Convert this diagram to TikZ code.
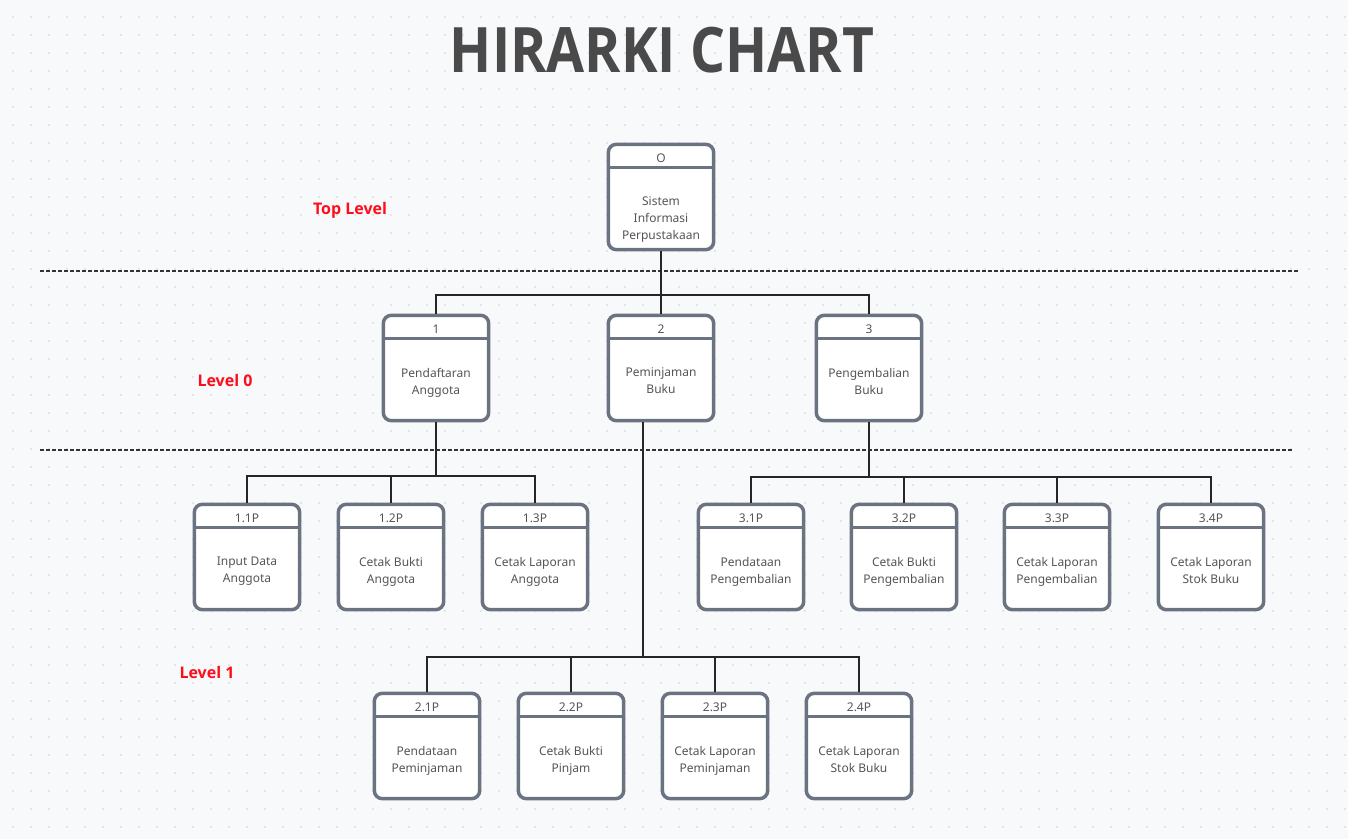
\documentclass[tikz,border=0pt]{standalone}
\usepackage{fontspec}
\setmainfont{Noto Sans}
\newfontfamily\heavyfont{Open Sans}
\usepackage{graphicx}

\definecolor{paper}{HTML}{F8F9FB}
\definecolor{griddot}{HTML}{DCDEE3}
\definecolor{boxline}{HTML}{6B7280}
\definecolor{boxtext}{HTML}{555555}
\definecolor{titlegray}{HTML}{4A4A4A}
\definecolor{levelred}{HTML}{FF0D1A}

\begin{document}
\begin{tikzpicture}[x=0.75pt, y=-0.75pt,
    every proc/.style={draw=boxline, fill=white, line width=2.6pt, rounded corners=6pt,
        minimum width=79pt, minimum height=79pt, inner sep=0pt},
    head line/.style={draw=boxline, line width=2.4pt},
    head/.style={font=\fontsize{9}{11}\selectfont, text=boxtext},
    body/.style={font=\fontsize{9}{12.75}\selectfont, text=boxtext, align=center, anchor=north},
    wire/.style={draw=black!85, line width=1.3pt},
    divider/.style={draw=black!80, line width=1.1pt, dash pattern=on 3pt off 1.5pt},
    level/.style={font=\heavyfont\bfseries\fontsize{12}{14}\selectfont, text=levelred}]

% background with dot grid
\fill[paper] (0,0) rectangle (1348,839);
\foreach \i in {0,...,74}
    \foreach \j in {0,...,45}
        \fill[griddot] (13+18*\i, 17+18*\j) circle (0.8pt);

\node [font=\heavyfont\bfseries\fontsize{47}{52}\selectfont, text=titlegray] (title) at (662,50)
    {\scalebox{0.88}[1]{HIRARKI CHART}};

\node [level] (level-top) at (350,210) {Top Level};
\node [level] (level-0) at (225,380) {Level 0};
\node [level] (level-1) at (207,672) {Level 1};

\draw [divider] (40,271) -- (1300,271);
\draw [divider] (40,450) -- (1292,450);

\foreach \n/\x/\y/\h/\t in {
        0/661/197/O/{Sistem\\Informasi\\Perpustakaan},
        1/436/368/1/{Pendaftaran\\Anggota},
        2/661/368/2/{Peminjaman\\Buku},
        3/869/368/3/{Pengembalian\\Buku},
        11/247/557/1.1P/{Input Data\\Anggota},
        12/391/557/1.2P/{Cetak Bukti\\Anggota},
        13/535/557/1.3P/{Cetak Laporan\\Anggota},
        31/751/557/3.1P/{Pendataan\\Pengembalian},
        32/904/557/3.2P/{Cetak Bukti\\Pengembalian},
        33/1057/557/3.3P/{Cetak Laporan\\Pengembalian},
        34/1211/557/3.4P/{Cetak Laporan\\Stok Buku},
        21/427/746/2.1P/{Pendataan\\Peminjaman},
        22/571/746/2.2P/{Cetak Bukti\\Pinjam},
        23/715/746/2.3P/{Cetak Laporan\\Peminjaman},
        24/859/746/2.4P/{Cetak Laporan\\Stok Buku}} {
    \node [every proc] (proc-\n) at (\x,\y) {};
    \draw [head line] ([yshift=-18.75pt]proc-\n.north west) -- ([yshift=-18.75pt]proc-\n.north east);
    \node [head] (proc-\n-num) at ([yshift=-11.6pt]proc-\n.north) {\h};
    \node [body] (proc-\n-txt) at ([yshift=-37.3pt]proc-\n.north) {\t};
}

% connectors
\coordinate (fork-0) at (661,295);
\coordinate (fork-1) at (436,476);
\coordinate (fork-2) at (643,657);
\coordinate (fork-3) at (869,477);

\draw [wire] (proc-0) -- (fork-0);
\foreach \c in {1, 2, 3}
    \draw [wire] (fork-0) -| (proc-\c);

\draw [wire] (proc-1) -- (fork-1);
\foreach \c in {11, 12, 13}
    \draw [wire] (fork-1) -| (proc-\c);

\draw [wire] (fork-2 |- proc-2.south) -- (fork-2);
\foreach \c in {21, 22, 23, 24}
    \draw [wire] (fork-2) -| (proc-\c);

\draw [wire] (proc-3) -- (fork-3);
\foreach \c in {31, 32, 33, 34}
    \draw [wire] (fork-3) -| (proc-\c);

\end{tikzpicture}
\end{document}
